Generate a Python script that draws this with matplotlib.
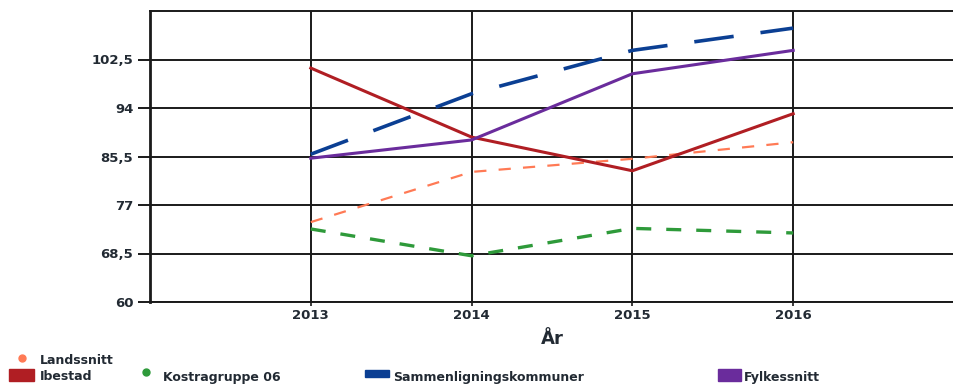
import matplotlib.pyplot as plt
from matplotlib.lines import Line2D
from matplotlib.patches import Rectangle

# data
years = [2013, 2014, 2015, 2016]
ibestad = [101.0, 88.9, 83.0, 93.0]
kostragruppe = [72.8, 68.1, 72.9, 72.1]
sammenligning = [85.9, 96.5, 104.1, 108.0]
fylkessnitt = [85.2, 88.4, 100.0, 104.1]
landssnitt = [74.0, 82.8, 85.1, 88.0]
y_ticks = [60, 68.5, 77, 85.5, 94, 102.5]
y_tick_labels = ["60", "68,5", "77", "85,5", "94", "102,5"]

RED = "#b01e23"
GREEN = "#2e9a3a"
BLUE = "#0b3f93"
PURPLE = "#6a2c9c"
ORANGE = "#ff7a55"
TXT = "#222a33"

W, H = 954, 387
fig = plt.figure(figsize=(W / 100, H / 100), dpi=100)
ax = fig.add_axes([150 / W, 85 / H, 804 / W, 291 / H])

ax.plot(years, landssnitt, color=ORANGE, lw=1.6, dashes=(5.5, 5.5), zorder=3)
ax.plot(years, kostragruppe, color=GREEN, lw=2.4, dashes=(4.5, 4.5), zorder=3)
ax.plot(years, ibestad, color=RED, lw=2.2, zorder=4)
ax.plot(years, fylkessnitt, color=PURPLE, lw=2.2, zorder=4)
ax.plot(years, sammenligning, color=BLUE, lw=2.6, dashes=(11, 7.5), zorder=5)

ax.set_xlim(2012, 2017)
ax.set_ylim(60, 111)
ax.set_xticks(years)
ax.set_xticklabels([str(y) for y in years])
ax.set_yticks(y_ticks)
ax.set_yticklabels(y_tick_labels)

ax.grid(True, color="#1a1a1a", lw=1.4)
ax.set_axisbelow(True)
for s in ax.spines.values():
    s.set_color("#1a1a1a")
    s.set_linewidth(1.4)
ax.spines["left"].set_linewidth(2)

ax.tick_params(axis="y", length=9, width=1.4, color="#1a1a1a", pad=3,
               labelsize=9.5, labelcolor=TXT)
ax.tick_params(axis="x", length=3, width=1.2, color="#1a1a1a", pad=2,
               labelsize=9.5, labelcolor=TXT)
for lab in ax.get_xticklabels() + ax.get_yticklabels():
    lab.set_fontweight("bold")

ax.set_xlabel("År", fontsize=13, fontweight="bold", color=TXT, labelpad=6)

# hand-placed legend, two rows like the original (pixel positions)
def fx(px):
    return px / W

def fy(py):
    return 1 - py / H

leg_font = dict(fontsize=9, fontweight="bold", color=TXT, va="center", ha="left")

fig.add_artist(Line2D([fx(22)], [fy(358)], ls="", marker="o", ms=5, color=ORANGE))
fig.text(fx(40), fy(361), "Landssnitt", **leg_font)

fig.add_artist(Rectangle((fx(9), fy(381)), fx(34) - fx(9), fy(369) - fy(381), color=RED))
fig.text(fx(40), fy(377), "Ibestad", **leg_font)

fig.add_artist(Line2D([fx(146)], [fy(372)], ls="", marker="o", ms=5, color=GREEN))
fig.text(fx(163), fy(377), "Kostragruppe 06", **leg_font)

fig.add_artist(Rectangle((fx(365), fy(377)), fx(389) - fx(365), fy(370) - fy(377), color=BLUE))
fig.text(fx(393), fy(377), "Sammenligningskommuner", **leg_font)

fig.add_artist(Rectangle((fx(718), fy(381)), fx(741) - fx(718), fy(369) - fy(381), color=PURPLE))
fig.text(fx(744), fy(377), "Fylkessnitt", **leg_font)

fig.savefig("out.png", dpi=100)
